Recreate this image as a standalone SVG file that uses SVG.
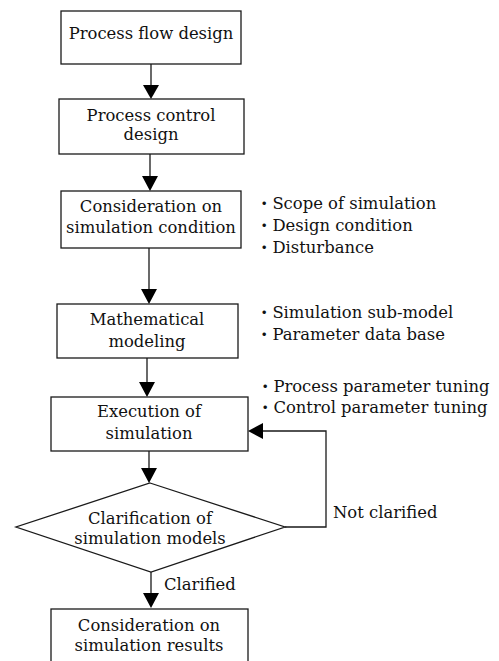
<svg xmlns="http://www.w3.org/2000/svg" width="499" height="661" viewBox="0 0 499 661">
<style>
.box{fill:#fff;stroke:#1a1a1a;stroke-width:1.3}
.ln{fill:none;stroke:#1a1a1a;stroke-width:1.3}
.ah{fill:#000}
text{font-family:"DejaVu Serif","Noto Sans CJK JP",serif;font-size:16.4px;fill:#111}
.c{text-anchor:middle}
</style>
<rect width="499" height="661" fill="#fff"/>
<g id="connectors">
<line class="ln" x1="151" y1="64" x2="151" y2="86"/><polygon class="ah" points="143,85 159,85 151,99"/>
<line class="ln" x1="150" y1="154" x2="150" y2="177"/><polygon class="ah" points="142,176 158,176 150,191"/>
<line class="ln" x1="149" y1="248" x2="149" y2="290"/><polygon class="ah" points="141,289 157,289 149,304"/>
<line class="ln" x1="147" y1="358" x2="147" y2="383"/><polygon class="ah" points="139,382 155,382 147,397"/>
<line class="ln" x1="149" y1="451" x2="149" y2="469"/><polygon class="ah" points="141,468 157,468 149,483"/>
<line class="ln" x1="151" y1="572" x2="151" y2="594"/><polygon class="ah" points="143,593 159,593 151,608"/>
<polyline class="ln" points="285,527 326,527 326,431 262,431"/><polygon class="ah" points="263,423 263,439 248,431"/>
<text x="164" y="590">Clarified</text>
<text x="333" y="518">Not clarified</text>
</g>
<g id="n1"><rect class="box" x="61" y="11" width="180" height="53"/><text class="c" x="151" y="39">Process flow design</text></g>
<g id="n2"><rect class="box" x="59" y="99" width="185" height="55"/><text class="c" x="151" y="121">Process control</text><text class="c" x="151" y="140">design</text></g>
<g id="n3"><rect class="box" x="61" y="191" width="180" height="57"/><text class="c" x="151" y="212">Consideration on</text><text class="c" x="151" y="233">simulation condition</text></g>
<g id="n3notes"><text x="256" y="209">・Scope of simulation</text><text x="256" y="231">・Design condition</text><text x="256" y="253">・Disturbance</text></g>
<g id="n4"><rect class="box" x="57" y="304" width="181" height="54"/><text class="c" x="147" y="325">Mathematical</text><text class="c" x="147" y="347">modeling</text></g>
<g id="n4notes"><text x="256" y="318">・Simulation sub-model</text><text x="256" y="340">・Parameter data base</text></g>
<g id="n5"><rect class="box" x="51" y="397" width="197" height="54"/><text class="c" x="149" y="417">Execution of</text><text class="c" x="149" y="439">simulation</text></g>
<g id="n5notes"><text x="257" y="392">・Process parameter tuning</text><text x="257" y="413">・Control parameter tuning</text></g>
<g id="n6"><polygon class="box" points="150,483 285,527 151,572 16,527"/><text class="c" x="150" y="524">Clarification of</text><text class="c" x="150" y="544">simulation models</text></g>
<g id="n7"><rect class="box" x="51" y="609" width="197" height="70"/><text class="c" x="149" y="631">Consideration on</text><text class="c" x="149" y="651">simulation results</text></g>
</svg>
